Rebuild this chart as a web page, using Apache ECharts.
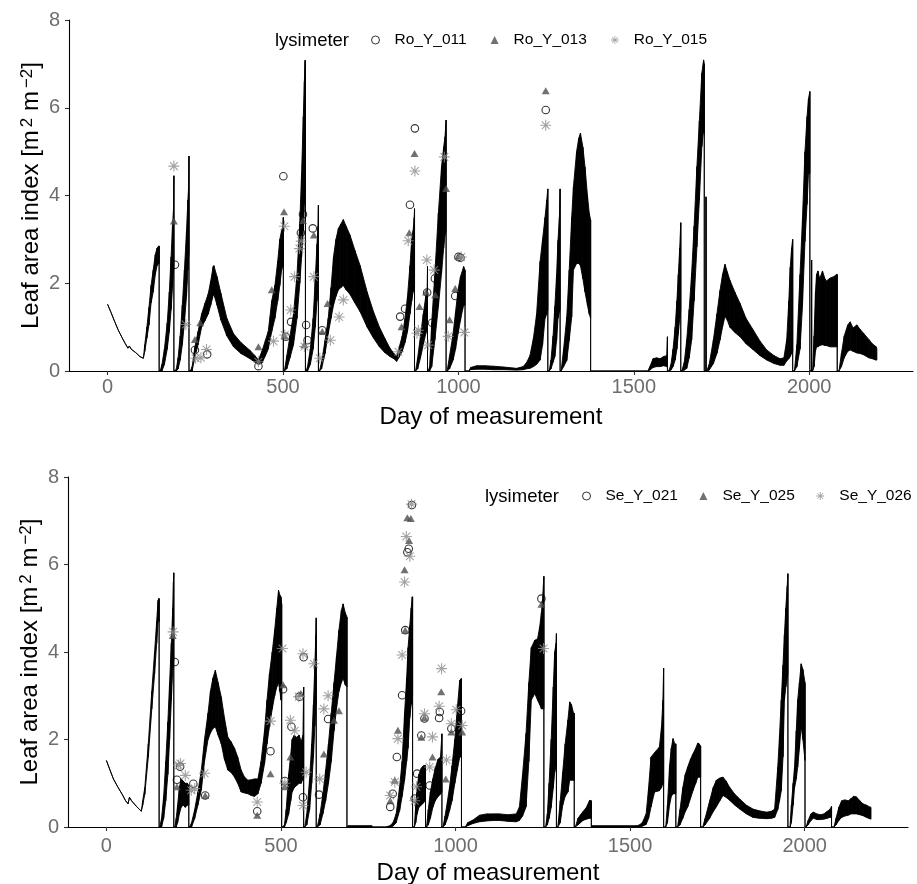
<!DOCTYPE html>
<html>
<head>
<meta charset="utf-8">
<script src="https://cdn.jsdelivr.net/npm/echarts@6/dist/echarts.min.js"></script>
<style>
  html, body { margin: 0; padding: 0; background: #fff; }
  #chart { width: 917px; height: 884px; }
</style>
</head>
<body>
<div id="chart"></div>
<script>
// Simulated leaf area index range (day, lower, upper) for the Ro lysimeters
const roBand = [
  [0,1.52,1.52],[10,1.33,1.33],[20,1.13,1.13],[30,0.94,0.94],[40,0.78,0.78],[50,0.63,0.63],[58,0.52,0.52],[62,0.57,0.57],[67,0.5,0.5],[80,0.42,0.42],[92,0.33,0.33],[102,0.29,0.29],
  [106,0.45,0.6],[112,0.75,1.0],[118,1.05,1.45],[124,1.55,1.95],[130,1.8,2.3],[136,2.2,2.65],[141,2.4,2.8],[146,2.45,2.85],[147,2.45,2.85],[147,0,0],
  [150,0,0],[155,0,0.15],[162,0.15,0.5],[170,0.5,1.1],[176,0.9,1.8],[181,1.4,2.6],[185,1.9,3.3],[188,2.3,3.7],[189,2.4,4.45],[189,0,0],
  [192,0,0],[196,0,0.05],[201,0.05,0.3],[207,0.25,0.8],[213,0.6,1.5],[219,1.1,2.3],[225,1.7,3.2],[229,2.3,3.9],[231,2.6,4.2],[232,2.7,4.9],[232,0,0],
  [236,0,0],[241,0,0.1],[249,0.32,0.55],[258,0.6,0.9],[268,1.0,1.3],[278,1.15,1.55],[287,1.3,1.76],[294,1.5,2.05],[301,1.72,2.38],[303,1.75,2.4],[312,1.5,2.15],[323,1.16,1.77],[340,0.8,1.2],[359,0.55,0.85],[380,0.4,0.65],[406,0.28,0.47],[420,0.2,0.35],[430,0.15,0.25],[440,0.18,0.45],[450,0.35,0.7],[458,0.5,0.9],[468,0.9,1.6],[477,1.2,1.95],[485,1.6,2.5],[491,1.95,3.0],[496,2.3,3.2],[500,2.4,3.3],[501,2.4,3.5],[501,0,0],
  [504,0,0],[511,0.05,0.35],[520,0.3,0.8],[530,0.6,1.3],[540,1.2,2.2],[548,2.0,3.4],[553,2.6,4.5],[558,3.2,5.8],[561,3.8,6.6],[563,4.2,7.08],[564,4.2,7.08],[564,0,0],
  [566,0,0],[570,0,0.1],[578,0.15,0.5],[586,0.5,1.2],[592,1.0,2.1],[597,1.6,2.9],[600,2.0,3.3],[601,2.1,3.78],[601,0,0],
  [604,0,0],[610,0.05,0.2],[620,0.4,0.7],[629,0.85,1.2],[637,1.2,1.9],[644,1.5,2.6],[651,1.7,3.0],[658,1.85,3.25],[665,1.9,3.35],[672,1.95,3.45],[680,1.85,3.3],[691,1.75,3.1],[705,1.55,2.75],[720,1.35,2.4],[740,1.0,1.8],[758,0.75,1.35],[775,0.55,1.0],[790,0.42,0.75],[805,0.33,0.52],[816,0.28,0.4],[824,0.22,0.33],[830,0.3,0.5],[840,0.45,0.8],[848,0.65,1.2],[855,0.9,1.7],[862,1.3,2.4],[867,1.6,3.0],[871,1.8,3.2],[874,1.9,3.5],[875,1.9,3.7],[875,0,0],
  [878,0,0],[884,0.05,0.3],[892,0.3,0.8],[900,0.6,1.3],[907,0.85,1.7],[911,0.95,1.85],[912,0.95,2.38],[912,0,0],
  [914,0,0],[918,0,0.1],[924,0.1,1.1],[933,0.71,2.23],[943,1.47,3.6],[952,2.23,4.66],[958,2.8,5.1],[962,3.1,5.34],[965,3.2,5.72],[965,0,0],
  [968,0,0],[975,0.05,0.35],[985,0.25,0.85],[992,0.5,1.35],[999,0.85,1.84],[1006,1.15,2.15],[1012,1.4,2.3],[1015,1.5,2.38],[1019,1.5,2.3],[1019,0,0],
  [1030,0,0],[1035,0.03,0.08],[1052,0.04,0.12],[1075,0.04,0.12],[1100,0.03,0.11],[1130,0.03,0.09],[1166,0.02,0.06],[1185,0.03,0.1],[1195,0.05,0.2],[1204,0.06,0.35],[1214,0.1,0.75],[1223,0.15,1.3],[1233,0.25,2.5],[1240,0.6,3.0],[1247,1.2,3.5],[1252,1.3,3.9],[1255,1.4,4.15],[1255,0,0],
  [1259,0,0],[1264,0.05,0.25],[1270,0.2,0.8],[1275,0.33,1.47],[1280,0.7,2.2],[1284,1.2,2.98],[1288,1.35,3.5],[1290,1.4,4.15],[1290,0,0],
  [1293,0,0],[1300,0.1,0.5],[1309,0.24,1.23],[1316,0.7,2.3],[1323,1.23,3.5],[1328,2.3,4.2],[1337,2.45,5.0],[1343,2.45,5.3],[1348,2.4,5.42],[1355,2.1,5.1],[1361,1.8,4.65],[1368,1.5,4.0],[1373,1.3,3.6],[1377,1.2,3.44],[1377,0,0],
  [1540,0,0],[1546,0.02,0.1],[1555,0.08,0.28],[1565,0.1,0.3],[1575,0.1,0.28],[1585,0.12,0.33],[1594,0.1,0.35],[1596,0.1,0.78],[1596,0,0],
  [1600,0,0],[1606,0.02,0.15],[1612,0.1,0.5],[1618,0.25,1.0],[1623,0.5,1.6],[1627,0.85,2.2],[1631,1.2,2.8],[1634,1.4,3.38],[1634,0,0],
  [1637,0,0],[1644,0.02,0.2],[1651,0.06,0.71],[1658,0.3,1.4],[1665,0.71,2.23],[1672,1.6,3.3],[1680,2.83,4.66],[1687,3.9,5.7],[1694,5.11,6.79],[1699,5.5,7.09],[1701,5.4,7.0],[1701,0,0],[1706,0,0],[1706,0,3.97],[1706,0,0],
  [1708,0,0],[1715,0.02,0.15],[1727,0.17,0.71],[1737,0.4,1.3],[1746,0.71,1.84],[1753,1.0,2.2],[1760,1.25,2.43],[1767,1.15,2.25],[1774,1.0,2.07],[1788,0.88,1.8],[1803,0.78,1.54],[1820,0.62,1.2],[1841,0.48,0.93],[1860,0.35,0.68],[1879,0.25,0.48],[1900,0.17,0.35],[1917,0.13,0.28],[1928,0.13,0.3],[1936,0.23,0.71],[1942,0.28,1.6],[1946,0.33,2.36],[1950,0.4,2.8],[1953,0.45,3.0],[1953,0,0],
  [1958,0,0],[1965,0.1,0.6],[1974,0.5,2.2],[1981,1.5,3.5],[1988,2.95,5.0],[1994,3.8,5.8],[1998,4.5,6.2],[2002,4.5,6.37],[2002,0,0],[2007,0,0],[2007,0,2.53],[2007,0,0],
  [2010,0,0],[2014,0.1,0.8],[2018,0.45,1.8],[2021,0.55,2.2],[2025,0.55,2.28],[2030,0.58,2.1],[2038,0.6,2.28],[2045,0.58,2.1],[2049,0.58,2.05],[2060,0.55,2.12],[2070,0.55,2.15],[2078,0.55,2.2],[2080,0.55,2.2],[2080,0,0],
  [2085,0,0],[2092,0.1,0.4],[2100,0.3,0.8],[2110,0.45,1.05],[2117,0.48,1.12],[2125,0.45,0.98],[2136,0.41,1.05],[2145,0.4,0.95],[2155,0.37,0.86],[2170,0.3,0.72],[2180,0.28,0.62],[2190,0.25,0.56],[2193,0.25,0.51]
];

// Simulated leaf area index range (day, lower, upper) for the Se lysimeters
const seBand = [
  [0,1.52,1.52],[8,1.35,1.35],[20,1.1,1.1],[33,0.91,0.91],[45,0.75,0.75],[55,0.6,0.6],[62,0.53,0.53],[66,0.68,0.68],[72,0.6,0.6],[85,0.48,0.48],[100,0.36,0.36],
  [104,0.5,0.6],[110,0.75,0.9],[120,1.6,1.9],[130,2.7,3.1],[138,3.5,4.0],[144,4.2,4.7],[148,4.7,5.18],[150,4.7,5.22],[151,4.7,5.22],[151,0,0],
  [153,0,0],[158,0,0.2],[164,0.2,0.7],[170,0.6,1.5],[176,1.2,2.4],[181,2.0,3.3],[186,2.9,4.2],[190,3.6,5.0],[192,3.8,5.6],[193,3.8,5.81],[193,0,0],
  [196,0,0],[200,0,0.2],[204,0.1,0.5],[209,0.3,0.9],[214,0.45,1.1],[220,0.5,1.05],[226,0.45,1.0],[232,0.5,1.0],[236,0.5,0.95],[236,0,0],
  [238,0,0],[244,0,0.1],[253,0.2,0.4],[262,0.5,0.8],[272,0.85,1.3],[281,1.5,2.0],[291,2.0,2.6],[298,2.15,3.1],[305,2.25,3.4],[312,2.29,3.58],[320,2.1,3.3],[329,1.9,2.97],[338,1.55,2.5],[348,1.3,2.05],[357,1.25,1.95],[367,1.14,1.8],[376,1.0,1.6],[386,0.8,1.3],[395,0.78,1.15],[405,0.76,1.07],[415,0.72,1.08],[424,0.7,1.1],[434,0.76,1.1],[443,1.0,1.5],[453,1.45,2.21],[460,1.9,2.9],[467,2.3,3.5],[475,2.7,4.0],[482,3.0,4.5],[488,3.2,5.0],[493,3.3,5.41],[497,3.1,5.3],[500,2.9,5.26],[502,2.9,5.1],[502,0,0],
  [505,0,0],[510,0,0.05],[515,0.1,0.4],[522,0.3,1.2],[528,0.6,1.65],[532,0.8,2.0],[538,0.9,2.1],[545,0.95,2.05],[552,1.0,2.1],[558,1.0,1.95],[563,1.1,2.1],[565,1.1,3.2],[565,0,0],
  [568,0,0],[574,0.05,0.3],[582,0.4,1.1],[588,1.0,1.9],[593,1.6,2.8],[597,2.3,3.7],[600,2.8,4.4],[601,3.0,4.78],[601,0,0],
  [604,0,0],[612,0.05,0.3],[620,0.3,0.75],[628,0.6,1.3],[636,1.0,1.9],[644,1.5,2.6],[652,2.2,3.3],[659,2.7,3.9],[666,3.1,4.5],[673,3.3,4.95],[678,3.4,5.1],[684,3.25,4.9],[689,3.2,4.8],[689,0,0],
  [692,0,0.03],[760,0,0.03],[762,0,0],
  [800,0,0],[812,0,0.03],[821,0.02,0.1],[830,0.1,0.3],[840,0.38,0.92],[847,0.7,1.5],[854,1.07,2.6],[860,1.5,3.4],[864,1.8,4.1],[869,2.5,4.6],[873,2.8,5.0],[876,3.0,5.26],[877,3.0,5.26],[877,0,0],
  [882,0,0],[886,0.1,0.5],[890,0.3,0.9],[895,0.45,1.2],[902,0.5,1.35],[908,0.55,1.4],[913,0.6,1.41],[914,0.6,1.41],[914,0,0],
  [917,0,0],[922,0.05,0.4],[928,0.2,0.8],[935,0.45,1.1],[942,0.6,1.35],[950,0.7,1.55],[957,0.75,1.6],[961,0.8,2.13],[961,0,0],
  [964,0,0],[970,0.05,0.25],[977,0.2,0.6],[983,0.38,0.92],[990,0.6,1.4],[998,1.0,2.0],[1005,1.3,2.7],[1012,1.6,3.35],[1016,1.6,3.39],[1017,1.6,3.39],[1017,0,0],
  [1028,0,0],[1035,0.03,0.1],[1050,0.08,0.16],[1069,0.12,0.27],[1090,0.14,0.3],[1110,0.15,0.3],[1126,0.15,0.3],[1150,0.13,0.28],[1174,0.12,0.3],[1183,0.15,0.46],[1192,0.25,1.2],[1202,0.46,2.14],[1210,1.5,3.3],[1217,2.9,4.1],[1227,3.05,4.27],[1235,2.9,4.3],[1241,2.8,4.57],[1246,2.7,4.9],[1249,2.7,5.18],[1253,2.7,5.73],[1253,0,0],
  [1258,0,0],[1263,0.05,0.3],[1268,0.2,1.0],[1274,0.45,2.0],[1280,0.9,3.2],[1284,1.25,4.0],[1288,1.4,4.2],[1289,1.4,4.42],[1289,0,0],
  [1293,0,0],[1300,0.1,0.6],[1307,0.5,1.25],[1314,0.7,1.9],[1322,0.8,2.45],[1327,1.07,2.86],[1332,1.07,2.8],[1338,1.07,2.6],[1340,1.07,2.6],[1340,0,0],
  [1343,0,0],[1351,0.05,0.2],[1358,0.1,0.28],[1365,0.15,0.35],[1375,0.18,0.45],[1384,0.2,0.61],[1389,0.2,0.6],[1389,0,0],
  [1392,0,0.03],[1520,0,0.03],[1527,0,0.05],
  [1535,0.02,0.1],[1546,0.06,0.3],[1553,0.2,0.9],[1560,0.46,1.6],[1570,0.8,1.7],[1584,0.83,1.83],[1590,0.9,2.3],[1594,1.0,2.9],[1596,1.0,3.63],[1596,0,0],
  [1602,0,0],[1607,0.1,0.5],[1613,0.5,1.4],[1618,0.7,1.8],[1623,0.76,2.02],[1628,0.76,1.9],[1631,0.76,1.9],[1631,0,0],
  [1636,0,0],[1643,0.05,0.4],[1651,0.2,0.9],[1658,0.35,1.2],[1665,0.46,1.37],[1673,0.65,1.55],[1680,0.83,1.67],[1688,1.0,1.8],[1694,1.14,1.92],[1698,1.14,1.9],[1702,1.14,1.85],[1702,0,0],
  [1708,0,0],[1715,0.05,0.2],[1728,0.2,0.6],[1738,0.35,0.9],[1747,0.46,1.07],[1757,0.6,1.12],[1766,0.72,1.14],[1775,0.68,1.05],[1785,0.61,0.91],[1800,0.5,0.75],[1814,0.41,0.64],[1833,0.3,0.5],[1852,0.22,0.41],[1870,0.2,0.37],[1891,0.19,0.34],[1905,0.2,0.36],[1914,0.22,0.41],[1923,0.4,1.37],[1928,0.6,2.1],[1933,0.83,2.9],[1938,1.6,3.7],[1942,2.9,4.4],[1946,3.2,5.0],[1950,3.4,5.5],[1952,3.5,5.79],[1952,0,0],
  [1958,0,0],[1962,0.1,0.5],[1967,0.5,1.0],[1971,0.9,1.37],[1976,1.1,2.2],[1980,1.37,2.9],[1985,1.8,3.3],[1990,2.3,3.73],[1995,2.0,3.6],[2001,1.52,3.3],[2001,0,0],
  [2004,0,0],[2010,0.05,0.15],[2018,0.15,0.3],[2025,0.2,0.34],[2035,0.17,0.3],[2045,0.17,0.28],[2055,0.18,0.3],[2065,0.2,0.36],[2072,0.22,0.4],[2077,0.22,0.47],[2077,0,0],
  [2084,0,0],[2090,0.05,0.2],[2098,0.15,0.45],[2106,0.22,0.6],[2115,0.25,0.62],[2125,0.27,0.6],[2133,0.3,0.65],[2140,0.3,0.7],[2148,0.3,0.69],[2158,0.28,0.6],[2167,0.26,0.53],[2177,0.22,0.5],[2186,0.19,0.46],[2190,0.18,0.45]
];

// Measured leaf area index per lysimeter: [day, LAI]
const roY011 = [[192,2.42],[249,0.48],[284,0.38],[430,0.11],[501,4.44],[508,0.78],[523,1.12],[551,3.15],[557,3.57],[566,1.05],[570,0.7],[585,3.25],[612,0.93],[834,1.24],[848,1.42],[862,3.79],[876,5.53],[911,1.79],[925,1.1],[933,2.11],[991,1.71],[1000,2.6],[1006,2.58],[1249,5.95]];
const roY013 = [[189,3.42],[249,0.72],[264,1.1],[430,0.55],[468,1.85],[503,3.63],[505,0.8],[557,3.43],[561,0.6],[588,3.1],[612,0.9],[627,1.54],[838,1.01],[860,3.15],[875,4.96],[889,1.47],[908,1.8],[934,1.74],[965,4.16],[975,1.17],[991,1.88],[1000,2.62],[1249,6.39]];
const roY015 = [[189,4.67],[223,1.06],[251,0.29],[266,0.3],[282,0.49],[430,0.21],[473,0.68],[504,3.3],[505,0.82],[522,1.39],[533,2.15],[547,2.79],[552,2.96],[561,0.56],[588,2.15],[605,0.29],[635,0.7],[660,1.23],[672,1.62],[829,0.44],[857,2.97],[876,4.56],[882,0.86],[886,0.93],[910,2.53],[914,0.59],[931,2.3],[960,4.88],[971,0.79],[1008,2.6],[1017,0.88],[1249,5.6]];

const seY021 = [[196,3.77],[202,1.08],[211,1.38],[249,0.99],[283,0.72],[432,0.36],[470,1.73],[506,3.15],[511,1.05],[530,2.29],[553,2.98],[563,0.68],[565,3.88],[609,0.74],[635,2.47],[813,0.46],[820,0.76],[832,1.6],[847,3.01],[856,4.5],[862,6.28],[866,6.36],[875,7.36],[883,0.65],[890,1.22],[902,2.09],[911,2.48],[926,0.95],[953,2.49],[955,2.63],[988,2.25],[1016,2.65],[1246,5.22]];
const seY025 = [[190,4.38],[202,0.92],[283,0.72],[432,0.27],[470,1.22],[506,3.25],[511,0.92],[527,1.6],[557,3.05],[623,1.67],[652,2.44],[666,2.66],[813,0.6],[826,1.07],[835,2.21],[854,5.88],[856,4.5],[862,7.07],[867,6.55],[872,7.05],[902,2.05],[911,2.5],[934,1.6],[959,3.09],[972,1.1],[988,2.17],[1019,2.17],[1246,5.09]];
const seY026 = [[191,4.46],[207,1.41],[212,1.45],[226,1.18],[243,0.84],[253,0.88],[281,1.23],[432,0.57],[470,2.42],[504,4.08],[511,1.0],[527,2.44],[539,2.2],[551,2.98],[563,3.96],[563,0.49],[572,1.25],[594,3.73],[611,1.1],[623,2.7],[635,3.0],[813,0.72],[826,1.03],[835,2.02],[847,3.93],[854,5.6],[859,6.64],[869,6.19],[874,7.38],[883,0.6],[888,0.92],[911,2.59],[926,1.37],[934,2.06],[953,2.76],[960,3.62],[974,1.53],[988,2.36],[1002,2.68],[1019,2.32],[1252,4.08]];

// Axis ticks
const xTicks = [0, 500, 1000, 1500, 2000];
const yTicks = [0, 2, 4, 6, 8];

const FONT = '"Liberation Sans", Arial, Helvetica, sans-serif';
const TICK_GREY = '#6e6e6e';
const ASTERISK = 'path://M45 0L55 0L55 100L45 100Z M0 45L100 45L100 55L0 55Z M18.1 11.1L88.9 81.9L81.9 88.9L11.1 18.1Z M81.9 11.1L88.9 18.1L18.1 88.9L11.1 81.9Z';

// Consecutive band rows become quads: [d0, lo0, hi0, d1, lo1, hi1]
function toQuads(band) {
  const out = [];
  for (let i = 0; i < band.length - 1; i++) {
    out.push([band[i][0], band[i][1], band[i][2], band[i + 1][0], band[i + 1][1], band[i + 1][2]]);
  }
  return out;
}

function renderBand(params, api) {
  const p = [
    api.coord([api.value(0), api.value(2)]),
    api.coord([api.value(3), api.value(5)]),
    api.coord([api.value(3), api.value(4)]),
    api.coord([api.value(0), api.value(1)])
  ];
  return {
    type: 'polygon',
    shape: { points: p },
    style: { fill: '#000', stroke: '#000', lineWidth: 0.9 }
  };
}

function xAxis(gridIndex, nameGap, margin) {
  return {
    type: 'value', gridIndex, min: -110, max: 2296,
    name: 'Day of measurement', nameLocation: 'middle', nameGap,
    nameTextStyle: { fontFamily: FONT, fontSize: 24, color: '#000' },
    axisLine: { show: true, onZero: false, lineStyle: { color: '#000', width: 1.1 } },
    axisTick: { show: true, length: 4, customValues: xTicks, lineStyle: { color: '#333', width: 1.1 } },
    axisLabel: { customValues: xTicks, formatter: v => String(v), fontFamily: FONT, fontSize: 20, color: TICK_GREY, margin },
    splitLine: { show: false }
  };
}

function yAxis(gridIndex) {
  return {
    type: 'value', gridIndex, min: 0, max: 8, interval: 2,
    name: '{a|Leaf area index [m}{s|2}{a| m}{s|−2}{a|]}',
    nameLocation: 'middle', nameGap: 26, nameMoveOverlap: false,
    nameTextStyle: {
      fontFamily: FONT, color: '#000',
      rich: {
        a: { fontFamily: FONT, fontSize: 24, lineHeight: 24, verticalAlign: 'bottom', color: '#000' },
        s: { fontFamily: FONT, fontSize: 17, lineHeight: 17, verticalAlign: 'top', padding: [0, 0, 13, 3], color: '#000' }
      }
    },
    axisLine: { show: true, onZero: false, lineStyle: { color: '#000', width: 1.1 } },
    axisTick: { show: true, length: 4, customValues: yTicks, lineStyle: { color: '#333', width: 1.1 } },
    axisLabel: { customValues: yTicks, formatter: v => String(v), fontFamily: FONT, fontSize: 20, color: TICK_GREY, margin: 9 },
    splitLine: { show: false }
  };
}

function scatter(name, data, axis, kind) {
  const s = { type: 'scatter', name, data, xAxisIndex: axis, yAxisIndex: axis, z: 5, animation: false };
  if (kind === 'circle') {
    s.symbol = 'circle'; s.symbolSize = 7.5;
    s.itemStyle = { color: 'rgba(255,255,255,0)', borderColor: '#000', borderWidth: 1.1 };
  } else if (kind === 'triangle') {
    s.symbol = 'triangle'; s.symbolSize = [8, 7];
    s.itemStyle = { color: '#4d4d4d' };
  } else {
    s.symbol = ASTERISK; s.symbolSize = 11;
    s.itemStyle = { color: '#8c8c8c' };
  }
  return s;
}

function legend(names, left, top, gap) {
  return {
    data: names, left, top, width: 360, orient: 'horizontal', padding: 0,
    itemWidth: 8, itemHeight: 8, itemGap: gap,
    itemStyle: { borderWidth: 1 },
    textStyle: { fontFamily: FONT, fontSize: 15.5, color: '#000', padding: [0, 0, 0, 10] },
    selectedMode: false
  };
}

const chart = echarts.init(document.getElementById('chart'), null, { renderer: 'canvas' });
chart.setOption({
  backgroundColor: '#fff',
  animation: false,
  grid: [
    { left: 69, top: 20, width: 844, height: 351, containLabel: false, outerBoundsMode: 'none' },
    { left: 68, top: 477, width: 840, height: 350, containLabel: false, outerBoundsMode: 'none' }
  ],
  xAxis: [xAxis(0, 34, 6), xAxis(1, 34, 9)],
  yAxis: [yAxis(0), yAxis(1)],
  legend: [
    legend(['Ro_Y_011', 'Ro_Y_013', 'Ro_Y_015'], 371, 32, 24),
    legend(['Se_Y_021', 'Se_Y_025', 'Se_Y_026'], 582, 488, 21.5)
  ],
  graphic: [
    { type: 'text', left: 275, top: 31, style: { text: 'lysimeter', font: '18.5px ' + FONT, fill: '#000' } },
    { type: 'text', left: 485, top: 487, style: { text: 'lysimeter', font: '18.5px ' + FONT, fill: '#000' } }
  ],
  series: [
    {
      type: 'custom', name: 'roSim', xAxisIndex: 0, yAxisIndex: 0, z: 2,
      renderItem: renderBand, data: toQuads(roBand),
      encode: { x: [0, 3], y: [1, 2, 4, 5] }, silent: true
    },
    {
      type: 'custom', name: 'seSim', xAxisIndex: 1, yAxisIndex: 1, z: 2,
      renderItem: renderBand, data: toQuads(seBand),
      encode: { x: [0, 3], y: [1, 2, 4, 5] }, silent: true
    },
    scatter('Ro_Y_011', roY011, 0, 'circle'),
    scatter('Ro_Y_013', roY013, 0, 'triangle'),
    scatter('Ro_Y_015', roY015, 0, 'asterisk'),
    scatter('Se_Y_021', seY021, 1, 'circle'),
    scatter('Se_Y_025', seY025, 1, 'triangle'),
    scatter('Se_Y_026', seY026, 1, 'asterisk')
  ]
});
</script>
</body>
</html>
